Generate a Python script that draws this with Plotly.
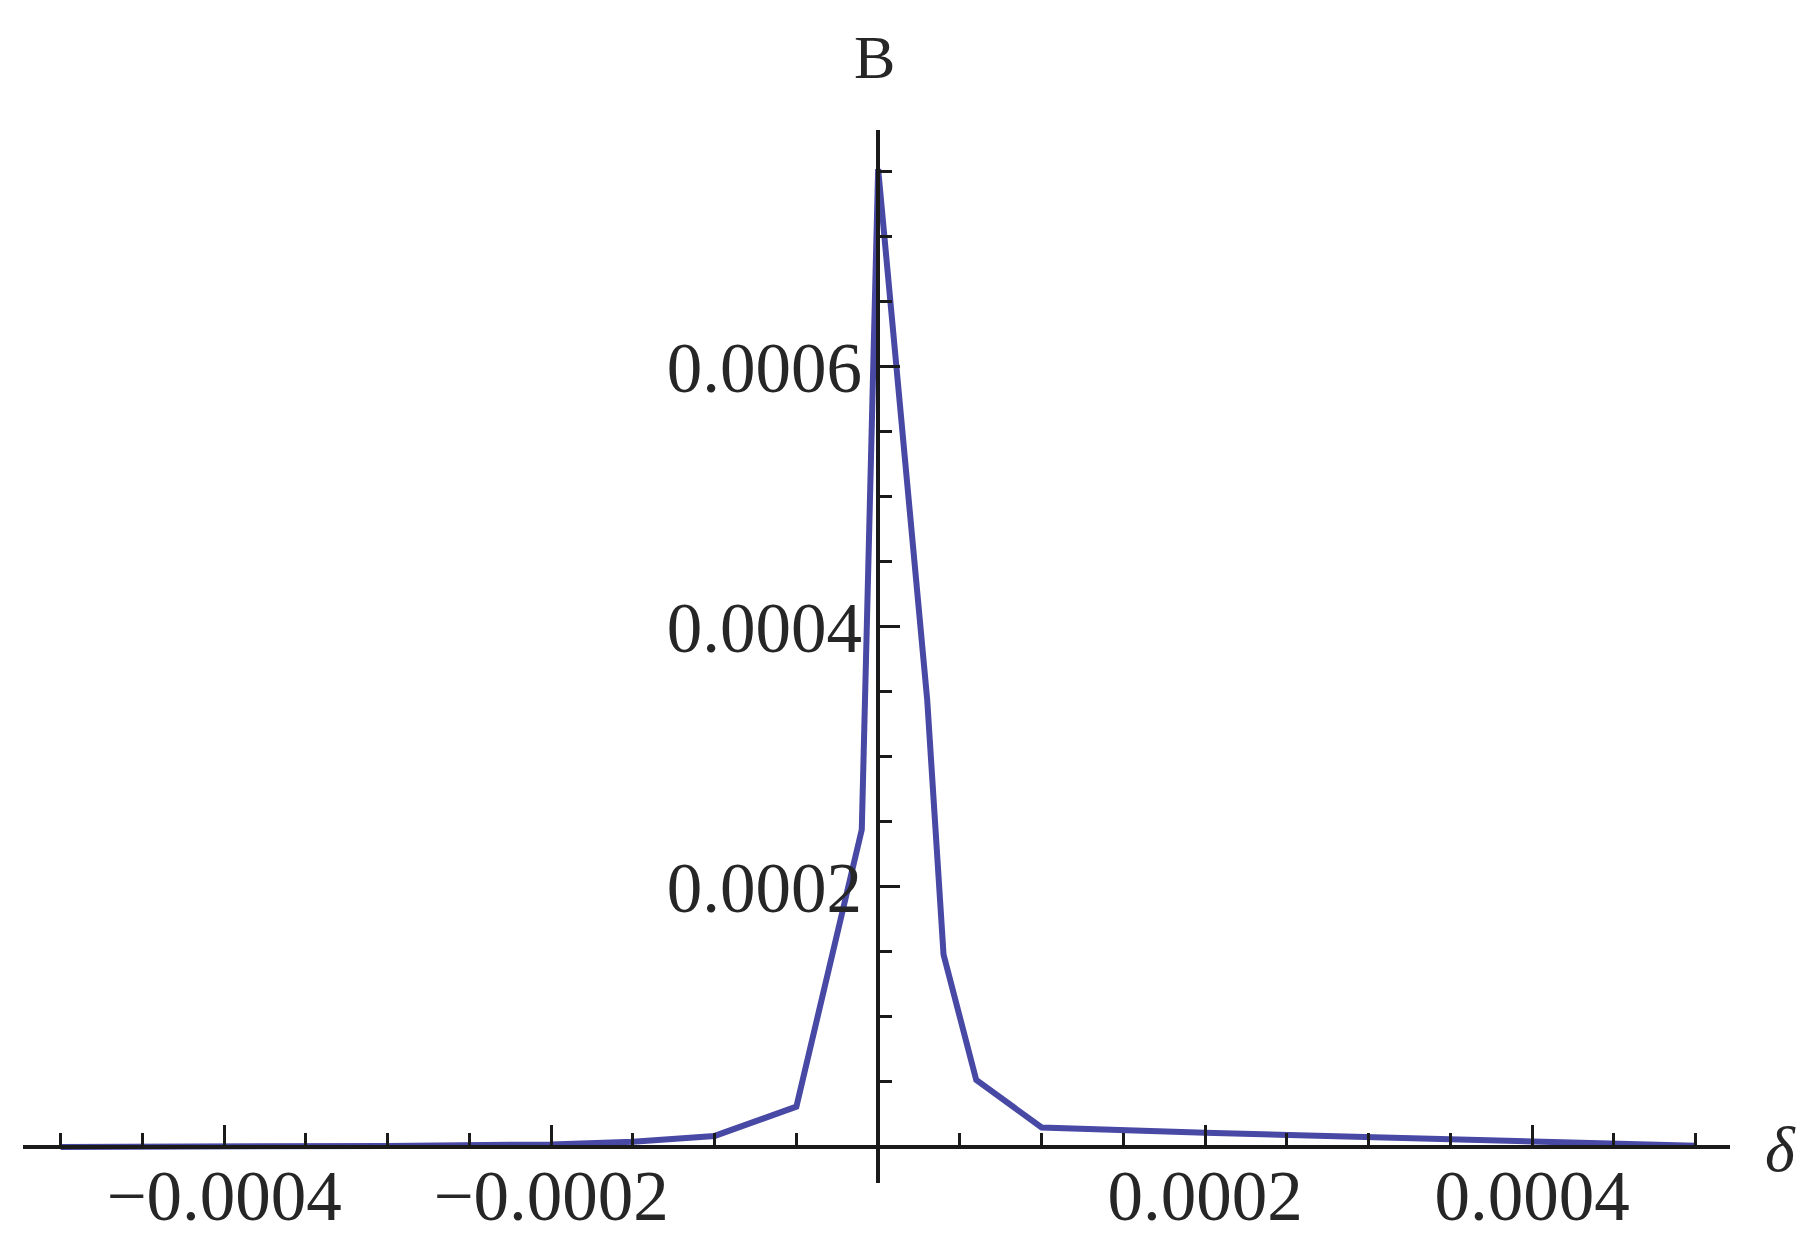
import plotly.graph_objects as go

# ---- data ----
delta = [-0.0005, -0.0004, -0.0003, -0.0002, -0.00015, -0.0001, -0.00005, -0.00001,
         0.0, 0.00003, 0.00004, 0.00006, 0.0001, 0.0002, 0.0003, 0.0004, 0.0005]
B_vals = [0.0, 0.0000002, 0.0000008, 0.000002, 0.000004, 0.0000085, 0.000031, 0.000244,
          0.000752, 0.000344, 0.000148, 0.0000515, 0.000015, 0.000011, 0.0000075, 0.000004, 0.000001]

x_tickvals = [-0.0004, -0.0002, 0.0002, 0.0004]
x_ticktext = ["\u22120.0004", "\u22120.0002", "0.0002", "0.0004"]
y_tickvals = [0.0002, 0.0004, 0.0006]
y_ticktext = ["0.0002", "0.0004", "0.0006"]

# ---- layout geometry ----
W, H = 1807, 1239
x_range = [-0.000523, 0.000521]
y_range = [-0.0000277, 0.000782]
x_dom = [23 / W, 1730 / W]
y_dom = [1 - 1183 / H, 1 - 130 / H]

# axes cross at the origin
x_axis_pos = y_dom[0] + (0 - y_range[0]) / (y_range[1] - y_range[0]) * (y_dom[1] - y_dom[0])
y_axis_pos = x_dom[0] + (0 - x_range[0]) / (x_range[1] - x_range[0]) * (x_dom[1] - x_dom[0])

font_family = "Liberation Serif, Times New Roman, serif"
axis_color = "#1a1a1a"
text_color = "#262626"
line_color = "rgb(72,72,165)"

fig = go.Figure()
fig.add_trace(go.Scatter(
    x=delta, y=B_vals, mode="lines",
    line=dict(color=line_color, width=6),
    showlegend=False, hoverinfo="skip",
))

common_minor = dict(ticks="inside", ticklen=12, tickwidth=3, tickcolor=axis_color,
                    tickmode="linear", tick0=0, dtick=0.00005, showgrid=False)

fig.update_layout(
    width=W, height=H,
    margin=dict(l=0, r=0, t=0, b=0),
    paper_bgcolor="white", plot_bgcolor="white",
    font=dict(family=font_family, size=71, color=text_color),
    xaxis=dict(
        domain=x_dom, range=x_range, anchor="free", position=x_axis_pos,
        showline=True, linecolor=axis_color, linewidth=4,
        showgrid=False, zeroline=False, automargin=False,
        tickmode="array", tickvals=x_tickvals, ticktext=x_ticktext,
        ticks="inside", ticklen=20, tickwidth=3, tickcolor=axis_color,
        ticklabelstandoff=-14,
        minor=common_minor,
        tickfont=dict(family=font_family, size=71, color=text_color),
    ),
    yaxis=dict(
        domain=y_dom, range=y_range, anchor="free", position=y_axis_pos,
        showline=True, linecolor=axis_color, linewidth=4,
        showgrid=False, zeroline=False, automargin=False,
        tickmode="array", tickvals=y_tickvals, ticktext=y_ticktext,
        ticks="inside", ticklen=20, tickwidth=3, tickcolor=axis_color,
        minor=common_minor,
        tickfont=dict(family=font_family, size=71, color=text_color),
    ),
    annotations=[
        dict(text="B", xref="paper", yref="paper", x=y_axis_pos - 4 / W, y=1 - 57 / H,
             showarrow=False, xanchor="center", yanchor="middle",
             font=dict(family=font_family, size=62, color=text_color)),
        dict(text="<i>\u03b4</i>", xref="paper", yref="paper", x=1780 / W, y=1 - 1149 / H,
             showarrow=False, xanchor="center", yanchor="middle",
             font=dict(family=font_family, size=64, color=text_color)),
    ],
)

fig.write_html(
    "out.html",
    config={"displayModeBar": False},
    post_script="document.body.style.margin='0';document.body.style.overflow='hidden';",
)
